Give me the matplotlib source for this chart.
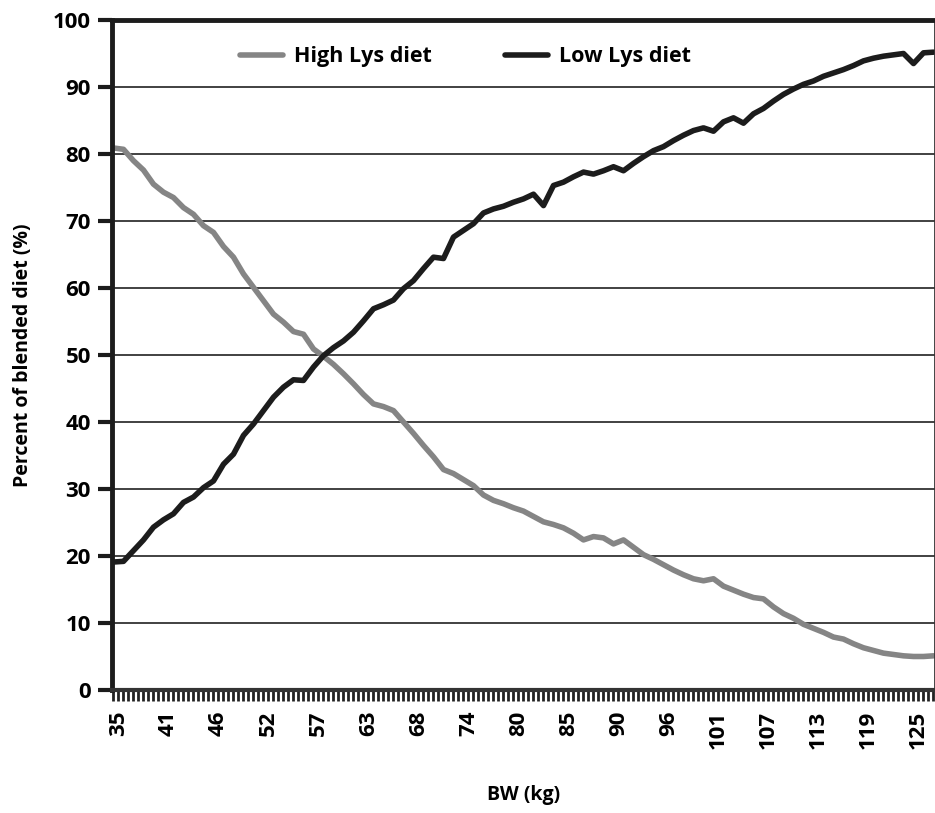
import numpy as np
import matplotlib
matplotlib.use("Agg")
from matplotlib import pyplot as plt
from matplotlib.ticker import MultipleLocator

# x axis: 165 BW categories, only every 10th one gets a label
n_categories = 165
bw_labels = [35, 41, 46, 52, 57, 63, 68, 74, 80, 85, 90, 96, 101, 107, 113, 119, 125]
label_step = 10
first_label = 1

# values read at every 2nd category (0, 2, 4, ... 164)
sample_step = 2
high_lys = [
    80.9, 80.7, 79.0, 77.6, 75.5, 74.3, 73.5, 72.0, 71.0, 69.3,
    68.3, 66.2, 64.6, 62.1, 60.1, 58.1, 56.1, 54.9, 53.5, 53.1,
    50.9, 49.8, 48.6, 47.2, 45.7, 44.1, 42.7, 42.3, 41.7, 40.0,
    38.3, 36.5, 34.8, 32.9, 32.3, 31.4, 30.5, 29.1, 28.3, 27.8,
    27.2, 26.7, 25.9, 25.1, 24.7, 24.2, 23.4, 22.4, 22.9, 22.7,
    21.8, 22.4, 21.3, 20.2, 19.5, 18.7, 17.9, 17.2, 16.6, 16.3,
    16.6, 15.5, 14.9, 14.3, 13.8, 13.6, 12.4, 11.4, 10.7, 9.8,
    9.2, 8.6, 7.9, 7.6, 6.9, 6.3, 5.9, 5.5, 5.3, 5.1,
    5.0, 5.0, 5.1,
]
low_lys = [
    19.1, 19.2, 20.8, 22.4, 24.3, 25.4, 26.3, 28.0, 28.8, 30.2,
    31.2, 33.7, 35.2, 38.0, 39.7, 41.7, 43.7, 45.2, 46.3, 46.2,
    48.2, 49.9, 51.1, 52.1, 53.4, 55.1, 56.9, 57.5, 58.2, 59.9,
    61.1, 62.9, 64.6, 64.4, 67.6, 68.6, 69.6, 71.2, 71.8, 72.2,
    72.8, 73.3, 74.0, 72.3, 75.3, 75.8, 76.6, 77.3, 77.0, 77.5,
    78.1, 77.5, 78.6, 79.6, 80.5, 81.1, 82.0, 82.8, 83.5, 83.9,
    83.4, 84.8, 85.4, 84.6, 86.0, 86.8, 87.9, 88.9, 89.7, 90.4,
    90.9, 91.6, 92.1, 92.6, 93.2, 93.9, 94.3, 94.6, 94.8, 95.0,
    93.5, 95.1, 95.2,
]

plt.rcParams["font.family"] = ["Open Sans", "DejaVu Sans"]
plt.rcParams["font.weight"] = "bold"

fig = plt.figure(figsize=(9.35, 8.13), dpi=100)
ax = fig.add_axes([0.1195, 0.1513, 0.8805, 0.8241])

x = np.arange(0, n_categories, sample_step)
ax.plot(x, high_lys, color="#858585", lw=4, label="High Lys diet", solid_capstyle="round")
ax.plot(x, low_lys, color="#1c1c1c", lw=4, label="Low Lys diet", solid_capstyle="round")

ax.set_ylim(0, 100)
ax.set_xlim(-0.35, n_categories - 0.7)
ax.yaxis.set_major_locator(MultipleLocator(10))
ax.grid(axis="y", color="#333333", lw=1.3)
ax.set_axisbelow(True)

ax.set_xticks([first_label + i * label_step for i in range(len(bw_labels))])
ax.set_xticklabels([str(v) for v in bw_labels], rotation=90, fontsize=16, fontweight="bold")
ax.xaxis.set_minor_locator(MultipleLocator(1))
ax.tick_params(axis="x", which="both", direction="out", length=8, width=2, color="#222222", pad=7)
ax.tick_params(axis="y", direction="out", length=10, width=3, color="#1c1c1c", labelsize=16, pad=5)
for lab in ax.get_yticklabels():
    lab.set_fontweight("bold")

for side in ["left", "top"]:
    ax.spines[side].set_linewidth(3.5)
    ax.spines[side].set_color("#1c1c1c")
ax.spines["bottom"].set_linewidth(3)
ax.spines["bottom"].set_color("#333333")
ax.spines["right"].set_linewidth(2)
ax.spines["right"].set_color("#333333")

ax.set_ylabel("Percent of blended diet (%)", fontsize=14, fontweight="bold", labelpad=14)
ax.set_xlabel("BW (kg)", fontsize=14, fontweight="bold", labelpad=26)

leg = ax.legend(loc="center", bbox_to_anchor=(0.43, 0.945), ncol=2, frameon=False,
                fontsize=15.5, handlelength=2.0, columnspacing=3.4, handletextpad=0.5)
for t in leg.get_texts():
    t.set_fontweight("bold")

fig.savefig("out.png", dpi=100)
